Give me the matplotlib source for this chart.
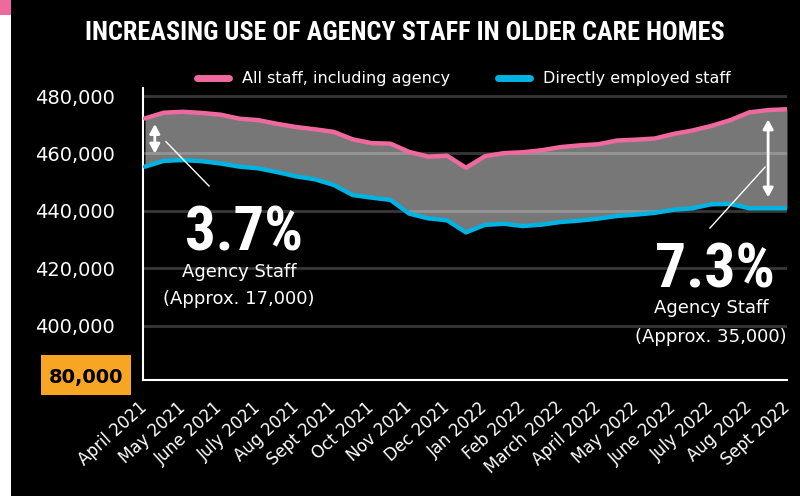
import numpy as np
import matplotlib
matplotlib.use("Agg")
import matplotlib.pyplot as plt
import matplotlib.font_manager as fm
from matplotlib.lines import Line2D
from matplotlib.patches import Rectangle

# monthly tick labels along the bottom
months = ["April 2021", "May 2021", "June 2021", "July 2021", "Aug 2021",
          "Sept 2021", "Oct 2021", "Nov 2021", "Dec 2021", "Jan 2022",
          "Feb 2022", "March 2022", "April 2022", "May 2022", "June 2022",
          "July 2022", "Aug 2022", "Sept 2022"]

# staff numbers, sampled twice a month from April 2021 to Sept 2022
all_staff = [472200, 474200, 474500, 474100, 473500, 472100, 471600, 470300,
             469200, 468400, 467500, 464900, 463600, 463400, 460500, 458900,
             459200, 455000, 459000, 460100, 460400, 461100, 462200, 462800,
             463200, 464500, 464800, 465200, 466800, 468000, 469600, 471600,
             474300, 475100, 475400]
direct_staff = [455400, 457400, 457700, 457300, 456500, 455400, 454800, 453500,
                452000, 451000, 449000, 445500, 444600, 443800, 439000, 437400,
                436700, 432500, 435100, 435500, 434700, 435200, 436100, 436600,
                437300, 438200, 438700, 439300, 440400, 440900, 442300, 442400,
                440900, 440900, 440900]

y_ticks = [400000, 420000, 440000, 460000, 480000]
y_labels = ["400,000", "420,000", "440,000", "460,000", "480,000"]

PINK = "#EE6A9E"
BLUE = "#00B3E0"
ORANGE = "#F6A623"

# pick a narrow face for the headline text if one is installed
installed = {f.name for f in fm.fontManager.ttflist}
narrow_name = next((n for n in ["Liberation Sans Narrow", "Roboto Condensed",
                                "DejaVu Sans Condensed", "Open Sans Condensed"]
                    if n in installed), None)
narrow = [narrow_name, "DejaVu Sans"] if narrow_name else ["DejaVu Sans"]
stretch = "normal" if narrow_name else "condensed"

x = np.arange(len(all_staff)) / 2.0

fig = plt.figure(figsize=(8, 4.96), dpi=100, facecolor="black")
W, H = 800, 496

# white strip down the left edge with a pink tab at the top
fig.patches.append(Rectangle((0, 0), 11 / W, 1, transform=fig.transFigure,
                             facecolor="white", edgecolor="none"))
fig.patches.append(Rectangle((0, 1 - 15 / H), 11 / W, 15 / H, transform=fig.transFigure,
                             facecolor=PINK, edgecolor="none"))

ax = fig.add_axes([143 / W, 1 - 380 / H, 644 / W, 292 / H])
ax.set_facecolor("black")

ax.fill_between(x, direct_staff, all_staff, color="#777777", lw=0, zorder=1)
for yt in y_ticks:
    ax.axhline(yt, color="white", alpha=0.22, lw=2, zorder=2)
ax.plot(x, all_staff, color=PINK, lw=3.2, zorder=3, solid_capstyle="round")
ax.plot(x, direct_staff, color=BLUE, lw=3.2, zorder=3, solid_capstyle="round")

ax.set_xlim(-0.053, 17)
ax.set_ylim(381080, 482790)
ax.set_yticks(y_ticks)
ax.set_yticklabels(y_labels)
ax.set_xticks(range(len(months)))
ax.set_xticklabels(months, rotation=42, ha="right", va="center",
                   rotation_mode="anchor")
ax.tick_params(axis="y", length=0, pad=20, labelsize=14, labelcolor="white")
ax.tick_params(axis="x", length=0, pad=18, labelsize=12, labelcolor="white")

for side in ["top", "right"]:
    ax.spines[side].set_visible(False)
for side in ["left", "bottom"]:
    ax.spines[side].set_color("white")
    ax.spines[side].set_linewidth(1.5)

# broken axis marker at the bottom
fig.patches.append(Rectangle((41 / W, 1 - 395 / H), 90 / W, 40 / H,
                             transform=fig.transFigure, facecolor=ORANGE,
                             edgecolor="none"))
fig.text(123 / W, 1 - 376 / H, "80,000", color="black", fontsize=14,
         fontweight="bold", ha="right", va="center_baseline")

# arrows showing the gap between the two lines
arrow = dict(arrowstyle="<|-|>,head_length=0.55,head_width=0.3", color="white", lw=2)
ax.annotate("", xy=(0.26, 471200), xytext=(0.26, 459000), arrowprops=arrow, zorder=4)
ax.annotate("", xy=(16.5, 472800), xytext=(16.5, 443700), arrowprops=arrow, zorder=4)
ax.plot([0.556, 1.695], [464080, 448640], color="white", lw=1, zorder=4)
ax.plot([16.42, 14.96], [455260, 434010], color="white", lw=1, zorder=4, clip_on=False)

pct_left = ax.text(2.62, 426350, "3.7%", color="white", fontsize=46,
                   fontweight="bold", family=narrow, fontstretch=stretch,
                   ha="center", va="baseline")
ax.text(2.49, 416940, "Agency Staff", color="white", fontsize=13,
        ha="center", va="baseline")
ax.text(2.49, 407530, "(Approx. 17,000)", color="white", fontsize=13,
        ha="center", va="baseline")

pct_right = ax.text(15.1, 413460, "7.3%", color="white", fontsize=46,
                    fontweight="bold", family=narrow, fontstretch=stretch,
                    ha="center", va="baseline", clip_on=False)
ax.text(14.99, 404290, "Agency Staff", color="white", fontsize=13,
        ha="center", va="baseline")
ax.text(14.99, 394400, "(Approx. 35,000)", color="white", fontsize=13,
        ha="center", va="baseline", clip_on=False)

handles = [Line2D([], [], color=PINK, lw=5, solid_capstyle="round"),
           Line2D([], [], color=BLUE, lw=5, solid_capstyle="round")]
fig.legend(handles, ["All staff, including agency", "Directly employed staff"],
           loc="center", bbox_to_anchor=(464 / W, 1 - 79 / H), ncol=2,
           frameon=False, fontsize=11.5, labelcolor="white", handlelength=2.0,
           handletextpad=0.8, columnspacing=3.0)

title = fig.text(405 / W, 1 - 33 / H, "INCREASING USE OF AGENCY STAFF IN OLDER CARE HOMES",
                 color="white", fontsize=18.5, fontweight="bold", family=narrow,
                 fontstretch=stretch, ha="center", va="center")

# shrink the headline texts until they span the wanted pixel widths
fig.canvas.draw()
renderer = fig.canvas.get_renderer()
for txt, width_px in [(title, 640), (pct_left, 118), (pct_right, 120)]:
    w = txt.get_window_extent(renderer).width
    txt.set_fontsize(txt.get_fontsize() * width_px / w)

fig.savefig("out.png", dpi=100, facecolor="black")
